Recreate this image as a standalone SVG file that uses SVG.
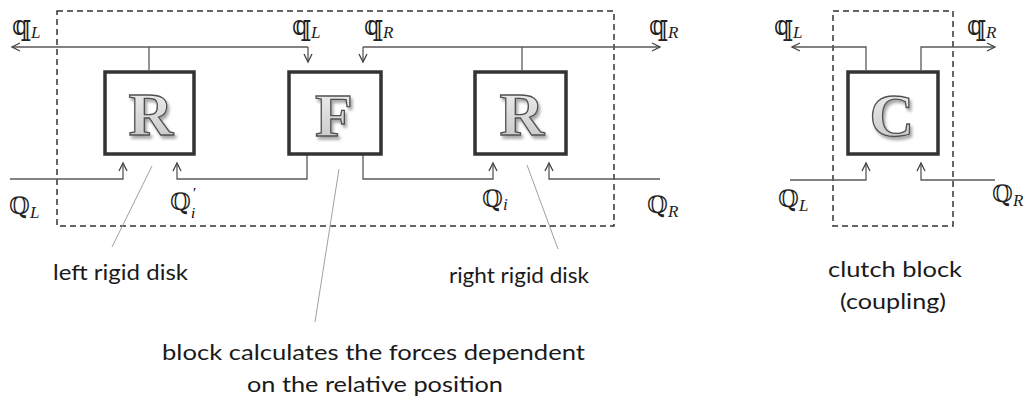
<svg xmlns="http://www.w3.org/2000/svg" width="1027" height="401" viewBox="0 0 1027 401">
<style>
.frame{fill:none;stroke:#333;stroke-width:1.5;stroke-dasharray:6,4}
.box{fill:#fff;stroke:#333;stroke-width:3.5}
.wire{fill:none;stroke:#595959;stroke-width:1.3}
.arr{marker-end:url(#ah)}
.lead{fill:none;stroke:#a0a0a0;stroke-width:1}
.big{font-family:"Liberation Serif",serif;font-weight:bold;font-size:62px;fill:url(#lg);stroke:#505050;stroke-width:1.3;text-anchor:middle;filter:url(#sh)}
.lbl{font-family:Lato,"Open Sans",sans-serif;font-size:22px;fill:#1a1a1a}
.m{font-family:"DejaVu Serif","DejaVu Sans",serif;font-size:24px;fill:#222}
.q{font-family:"DejaVu Serif","DejaVu Sans",serif;font-size:27px;fill:#222}
.s{font-family:"Liberation Serif",serif;font-style:italic;font-size:17px}
</style>
<defs>
<marker id="ah" markerUnits="userSpaceOnUse" markerWidth="12" markerHeight="12" refX="9" refY="5" orient="auto">
<path d="M1,1 L9,5 L1,9" fill="none" stroke="#444" stroke-width="1.3"/>
</marker>
<linearGradient id="lg" x1="0" y1="0" x2="0" y2="1">
<stop offset="0" stop-color="#f2f2f2"/>
<stop offset="1" stop-color="#c4c4c4"/>
</linearGradient>
<filter id="sh" x="-20%" y="-20%" width="150%" height="150%">
<feDropShadow dx="2" dy="3" stdDeviation="1.6" flood-color="#000" flood-opacity="0.35"/>
</filter>
</defs>

<g id="frames">
<rect class="frame" x="57" y="11" width="557" height="215"/>
<rect class="frame" x="833" y="11" width="120" height="215"/>
</g>

<g id="connectors">
<path class="wire arr" d="M308,47 L12,47"/>
<path class="wire arr" d="M308,47 L308,62"/>
<path class="wire" d="M149,47 L149,70"/>
<path class="wire arr" d="M363,47 L660,47"/>
<path class="wire arr" d="M363,47 L363,62"/>
<path class="wire" d="M522,47 L522,70"/>
<path class="wire arr" d="M10,179 L123,179 L123,163"/>
<path class="wire arr" d="M307,155 L307,179 L177,179 L177,163"/>
<path class="wire arr" d="M363,155 L363,179 L493,179 L493,163"/>
<path class="wire arr" d="M660,179 L549,179 L549,163"/>
<path class="wire arr" d="M866,70 L866,47 L792,47"/>
<path class="wire arr" d="M921,70 L921,47 L995,47"/>
<path class="wire arr" d="M790,180 L866,180 L866,163"/>
<path class="wire arr" d="M995,180 L921,180 L921,163"/>
<path class="lead" d="M152,166 L112,247"/>
<path class="lead" d="M339,169 L315,322"/>
<path class="lead" d="M527,165 L558,249"/>
</g>

<g id="node-R-left">
<rect class="box" x="105" y="72" width="89" height="82"/>
<text class="big" x="151" y="135">R</text>
</g>
<g id="node-F">
<rect class="box" x="289" y="72" width="92" height="82"/>
<text class="big" x="334" y="136">F</text>
</g>
<g id="node-R-right">
<rect class="box" x="475" y="72" width="91" height="82"/>
<text class="big" x="522" y="135">R</text>
</g>
<g id="node-C">
<rect class="box" x="848" y="72" width="90" height="82"/>
<text class="big" x="892" y="136">C</text>
</g>

<g id="math-labels">
<text class="q" x="12" y="35">𝕢<tspan class="s" dy="3">L</tspan></text>
<text class="q" x="292" y="35">𝕢<tspan class="s" dy="3">L</tspan></text>
<text class="q" x="364" y="35">𝕢<tspan class="s" dy="3">R</tspan></text>
<text class="q" x="649" y="35">𝕢<tspan class="s" dy="3">R</tspan></text>
<text class="q" x="774" y="35">𝕢<tspan class="s" dy="3">L</tspan></text>
<text class="q" x="967" y="35">𝕢<tspan class="s" dy="3">R</tspan></text>
<text class="m" x="9" y="214">ℚ<tspan class="s" dy="4">L</tspan></text>
<text class="m" x="170" y="210">ℚ</text>
<text class="s" x="193" y="198" style="font-style:normal;font-size:15px">′</text>
<text class="s" x="191" y="218" style="font-size:15px">i</text>
<text class="m" x="482" y="207">ℚ<tspan class="s" dy="3">i</tspan></text>
<text class="m" x="647" y="213">ℚ<tspan class="s" dy="4">R</tspan></text>
<text class="m" x="778" y="207">ℚ<tspan class="s" dy="4">L</tspan></text>
<text class="m" x="992" y="202">ℚ<tspan class="s" dy="4">R</tspan></text>
</g>

<g id="captions">
<text class="lbl" x="53" y="280" textLength="135" lengthAdjust="spacingAndGlyphs">left rigid disk</text>
<text class="lbl" x="449" y="283" textLength="140" lengthAdjust="spacingAndGlyphs">right rigid disk</text>
<text class="lbl" x="162" y="360" textLength="423" lengthAdjust="spacingAndGlyphs">block calculates the forces dependent</text>
<text class="lbl" x="247" y="392" textLength="256" lengthAdjust="spacingAndGlyphs">on the relative position</text>
<text class="lbl" x="828" y="277" textLength="134" lengthAdjust="spacingAndGlyphs">clutch block</text>
<text class="lbl" x="840" y="309" textLength="106" lengthAdjust="spacingAndGlyphs">(coupling)</text>
</g>
</svg>
